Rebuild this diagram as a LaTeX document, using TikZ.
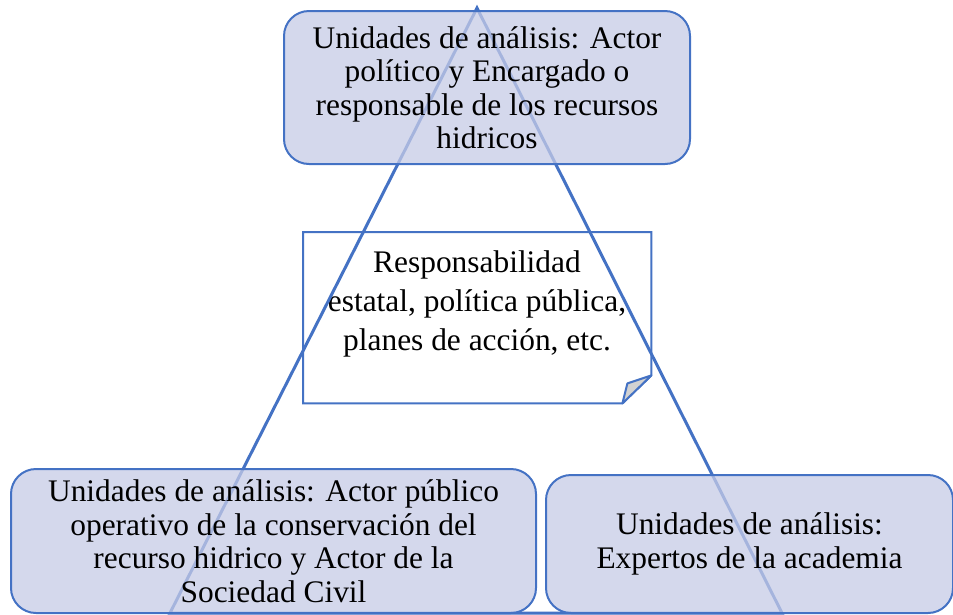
\documentclass[tikz,border=0pt]{standalone}
\usepackage{fontspec}
\setmainfont{Liberation Serif}
\definecolor{bord}{HTML}{4472C4}
\definecolor{boxfill}{RGB}{198,203,230}
\begin{document}
\begin{tikzpicture}[x=1pt,y=-1pt,
  unitbox/.style={draw=bord, line width=2pt, rounded corners=25pt, fill=boxfill,
    fill opacity=0.75, draw opacity=1, text opacity=1, align=center,
    font=\fontsize{31.4}{33.5}\selectfont, inner sep=0pt, anchor=north west},
  tri/.style={draw=bord, line width=3pt},
  notetext/.style={align=center, font=\fontsize{31.4}{39}\selectfont, inner sep=0pt}]
\useasboundingbox (0,0) rectangle (953,614);
% note with folded corner
\node[minimum width=348pt, minimum height=171pt, anchor=north west, inner sep=0pt] (notebox) at (303,232) {};
\draw[draw=bord, line width=2pt, fill=white]
  (notebox.north west) -- (notebox.north east) -- ([yshift=28pt]notebox.south east)
  -- ([xshift=-29pt]notebox.south east) -- (notebox.south west) -- cycle;
\draw[draw=bord, line width=2pt, fill=gray!35, line join=round]
  ([xshift=-29pt]notebox.south east) -- ([xshift=-24pt,yshift=20pt]notebox.south east)
  -- ([yshift=28pt]notebox.south east) -- cycle;
\node[notetext] (note) at (477,304) {Responsabilidad\\estatal, política pública,\\planes de acción, etc.};
% triangle
\coordinate (apex) at (477,8);
\coordinate (bl) at (170,613);
\coordinate (br) at (782,613);
\draw[tri] (apex) -- (bl) -- (br) -- cycle;
% boxes
\node[unitbox, minimum width=406pt, minimum height=153pt] (top) at (283,10)
  {Unidades de análisis: Actor\\político y Encargado o\\responsable de los recursos\\hidricos};
\node[unitbox, minimum width=525pt, minimum height=144pt] (left) at (10,468)
  {Unidades de análisis: Actor público\\operativo de la conservación del\\recurso hidrico y Actor de la\\Sociedad Civil};
\node[unitbox, minimum width=407pt, minimum height=138pt] (right) at (545,474)
  {Unidades de análisis:\\Expertos de la academia};
\end{tikzpicture}
\end{document}
